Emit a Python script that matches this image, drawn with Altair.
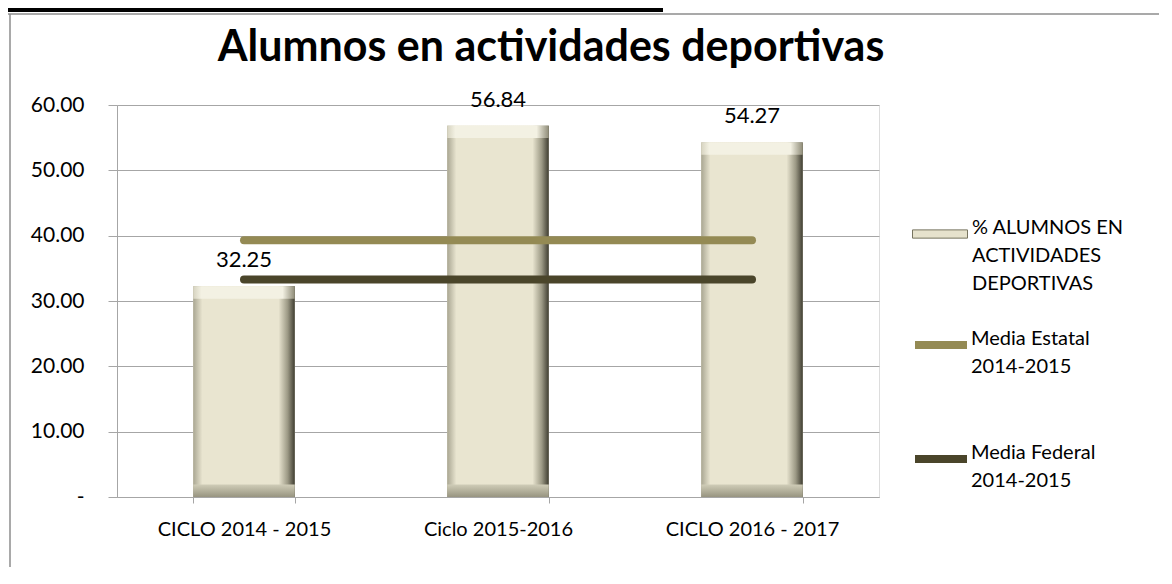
import altair as alt
import pandas as pd

# ---------------- data ----------------
categorias = ["CICLO 2014 - 2015", "Ciclo 2015-2016", "CICLO 2016 - 2017"]
alumnos = [32.25, 56.84, 54.27]
media_estatal = [39.3, 39.3, 39.3]
media_federal = [33.3, 33.3, 33.3]
serie_barras = "% ALUMNOS EN\nACTIVIDADES\nDEPORTIVAS"
serie_estatal = "Media Estatal\n2014-2015"
serie_federal = "Media Federal\n2014-2015"
titulo = "Alumnos en actividades deportivas"
y_ticks = [0, 10, 20, 30, 40, 50, 60]

bars_df = pd.DataFrame({"categoria": categorias, "valor": alumnos,
                        "serie": [serie_barras] * len(categorias)})
lines_df = pd.DataFrame({
    "categoria": categorias * 2,
    "valor": media_estatal + media_federal,
    "serie": [serie_estatal] * len(categorias) + [serie_federal] * len(categorias),
})
frame_df = pd.DataFrame({"k": [0]})

FONT = "Lato"
GRID = "#a6a6a6"

x_enc = alt.X(
    "categoria:N", sort=categorias,
    scale=alt.Scale(paddingInner=0.6, paddingOuter=0.3),
    axis=alt.Axis(title=None, labelAngle=0, tickBand="extent", tickSize=6,
                  tickColor=GRID, domainColor=GRID, labelFont=FONT,
                  labelFontSize=20, labelColor="black", labelPadding=16,
                  grid=False),
)
y_enc = alt.Y(
    "valor:Q", scale=alt.Scale(domain=[0, 60], nice=False),
    axis=alt.Axis(title=None, values=y_ticks, tickSize=9, tickColor=GRID,
                  domainColor=GRID, gridColor=GRID, grid=True,
                  labelFont=FONT, labelFontSize=21, labelColor="black",
                  labelPadding=24,
                  labelExpr="datum.value == 0 ? '-\u00a0\u00a0\u00a0\u00a0' : format(datum.value, '.2f')"),
)

base_bars = alt.Chart(bars_df)

solid = base_bars.mark_bar().encode(
    x=x_enc, y=y_enc,
    fill=alt.Fill("serie:N", scale=alt.Scale(range=["#e6e2cc"]),
                  legend=alt.Legend(title=None, orient="none", legendX=795, legendY=101,
                                    padding=0, labelExpr="split(datum.label, '\\n')",
                                    symbolType="M-1,-0.15H1V0.15H-1Z", symbolSize=3025,
                                    symbolStrokeColor="#77745f", symbolStrokeWidth=1,
                                    labelFont=FONT, labelFontSize=20, labelColor="black",
                                    labelBaseline="alphabetic", labelOffset=4, labelLimit=300)),
)

grad_main = base_bars.mark_bar(
    fill=alt.Gradient(gradient="linear", x1=0, x2=1, y1=0, y2=0, stops=[
        alt.GradientStop(offset=0, color="#a9a692"),
        alt.GradientStop(offset=0.09, color="#e9e5d0"),
        alt.GradientStop(offset=0.84, color="#e9e5d0"),
        alt.GradientStop(offset=0.93, color="#9c9985"),
        alt.GradientStop(offset=1, color="#3f3d31"),
    ])
).encode(x=alt.X("categoria:N", sort=categorias), y="valor:Q")

top_bevel = base_bars.transform_calculate(b2="datum.valor - 1.9").mark_bar(
    fill=alt.Gradient(gradient="linear", x1=0, x2=1, y1=0, y2=0, stops=[
        alt.GradientStop(offset=0, color="#d6d3c0"),
        alt.GradientStop(offset=0.08, color="#f3f1e3"),
        alt.GradientStop(offset=0.88, color="#f3f1e3"),
        alt.GradientStop(offset=1, color="#8e8b77"),
    ])
).encode(x=alt.X("categoria:N", sort=categorias), y="valor:Q", y2="b2:Q")

bottom_bevel = base_bars.transform_calculate(b0="0", b1="1.9").mark_bar(
    fill=alt.Gradient(gradient="linear", x1=0, x2=0, y1=0, y2=1, stops=[
        alt.GradientStop(offset=0, color="#cfccb7"),
        alt.GradientStop(offset=1, color="#979480"),
    ])
).encode(x=alt.X("categoria:N", sort=categorias), y="b1:Q", y2="b0:Q")

labels = base_bars.mark_text(baseline="alphabetic", dy=-19, font=FONT,
                             fontSize=22, color="black").encode(
    x=alt.X("categoria:N", sort=categorias), y="valor:Q",
    text=alt.Text("valor:Q", format=".2f"),
)

lines = alt.Chart(lines_df).mark_line(strokeWidth=8, strokeCap="round").encode(
    x=alt.X("categoria:N", sort=categorias), y="valor:Q",
    stroke=alt.Stroke("serie:N", scale=alt.Scale(domain=[serie_estatal, serie_federal],
                                                 range=["#948a54", "#4a452a"]),
                      legend=alt.Legend(title=None, orient="none", legendX=794, legendY=210,
                                        padding=0, rowPadding=52,
                                        labelExpr="split(datum.label, '\\n')",
                                        symbolType="stroke", symbolSize=2704,
                                        symbolStrokeWidth=8,
                                        labelFont=FONT, labelFontSize=20, labelColor="black",
                                        labelBaseline="alphabetic", labelOffset=0, labelLimit=300)),
    detail="serie:N",
)

frame_top = alt.Chart(frame_df).mark_rule(color="#8c8c8c", strokeWidth=1.5).encode(
    x=alt.value(-109), x2=alt.value(1060), y=alt.value(-91))
frame_left = alt.Chart(frame_df).mark_rule(color="#8c8c8c", strokeWidth=1.5).encode(
    x=alt.value(-107), y=alt.value(-91), y2=alt.value(470))
black_bar = alt.Chart(frame_df).mark_rect(color="black").encode(
    x=alt.value(-109), x2=alt.value(546), y=alt.value(-97), y2=alt.value(-93))

chart = alt.layer(
    solid, grad_main, top_bevel, bottom_bevel, lines, labels,
    frame_top, frame_left, black_bar,
).resolve_scale(fill="independent", stroke="independent").properties(
    width=762, height=392,
    autosize=alt.AutoSizeParams(type="none"),
    padding={"left": 109, "top": 97, "right": 280, "bottom": 70},
    title=alt.TitleParams(text=titulo, font=FONT, fontSize=43, fontWeight="bold",
                          color="black", anchor="middle", dx=53, offset=-96,
                          frame="group", baseline="alphabetic"),
).configure_view(stroke=None).configure(
    style={"guide-label": {"lineHeight": 28}}
)

chart.save("out.html", embed_options={"renderer": "svg", "actions": False})
